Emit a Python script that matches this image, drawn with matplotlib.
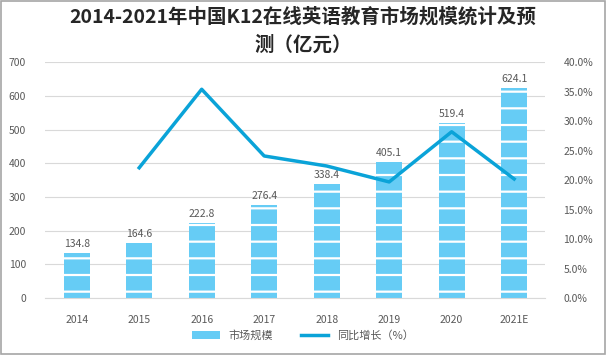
import matplotlib
matplotlib.use("Agg")
import matplotlib.pyplot as plt
from matplotlib.patches import Rectangle
from matplotlib.ticker import FuncFormatter

plt.rcParams['font.family'] = ['Noto Sans CJK SC', 'DejaVu Sans']
plt.rcParams['hatch.linewidth'] = 1.6
plt.rcParams['hatch.color'] = 'white'

years = ['2014', '2015', '2016', '2017', '2018', '2019', '2020', '2021E']
market = [134.8, 164.6, 222.8, 276.4, 338.4, 405.1, 519.4, 624.1]
growth_years = ['2015', '2016', '2017', '2018', '2019', '2020', '2021E']
growth = [22.1, 35.4, 24.1, 22.4, 19.7, 28.2, 20.2]

bar_color = '#66CCF5'
line_color = '#0AA3D8'
text_color = '#595959'

fig = plt.figure(figsize=(6.06, 3.55), dpi=100)
ax = fig.add_axes([0.075, 0.16, 0.825, 0.665])
ax2 = ax.twinx()

x = list(range(len(years)))
bars = ax.bar(x, market, width=0.42, color=bar_color, hatch='-', edgecolor='white', linewidth=0, zorder=2)
for xi, v in zip(x, market):
    ax.text(xi, v + 12, f'{v:.1f}', ha='center', va='bottom', fontsize=7.5, color=text_color)

gx = [years.index(y) for y in growth_years]
ax2.plot(gx, growth, color=line_color, linewidth=2.5, zorder=3)

ax.set_ylim(0, 700)
ax.set_yticks(range(0, 701, 100))
ax2.set_ylim(0, 40)
ax2.set_yticks(range(0, 41, 5))
ax2.yaxis.set_major_formatter(FuncFormatter(lambda v, p: f'{v:.1f}%'))
ax.set_xlim(-0.5, len(years) - 0.5)
ax.set_xticks(x)
ax.set_xticklabels(years)

ax.grid(axis='y', color='#D9D9D9', linewidth=0.8, zorder=0)
ax.set_axisbelow(True)
for a in (ax, ax2):
    for s in a.spines.values():
        s.set_visible(False)
    a.tick_params(length=0, labelsize=7.5, colors=text_color)
ax.spines['bottom'].set_visible(True)
ax.spines['bottom'].set_color('#D9D9D9')
ax.tick_params(axis='x', pad=12)
ax.tick_params(axis='y', pad=14)
ax2.tick_params(axis='y', pad=13)

fig.text(0.5, 0.952, '2014-2021年中国K12在线英语教育市场规模统计及预', ha='center', va='center',
         fontsize=14, fontweight='bold', color='#262626')
fig.text(0.5, 0.873, '测（亿元）', ha='center', va='center',
         fontsize=14, fontweight='bold', color='#262626')

h1 = Rectangle((0, 0), 1, 1, facecolor=bar_color, hatch='-', edgecolor='white', linewidth=0)
h2, = ax2.plot([], [], color=line_color, linewidth=2.5)
fig.legend([h1, h2], ['市场规模', '同比增长（%）'], loc='center', bbox_to_anchor=(0.5, 0.055),
           ncol=2, frameon=False, fontsize=8, labelcolor=text_color, handlelength=2.5, columnspacing=2.5)

fig.patches.append(Rectangle((0.001, 0.002), 0.997, 0.995, transform=fig.transFigure,
                             fill=False, edgecolor='#A6A6A6', linewidth=1.2))

fig.savefig('out.png', dpi=100)
